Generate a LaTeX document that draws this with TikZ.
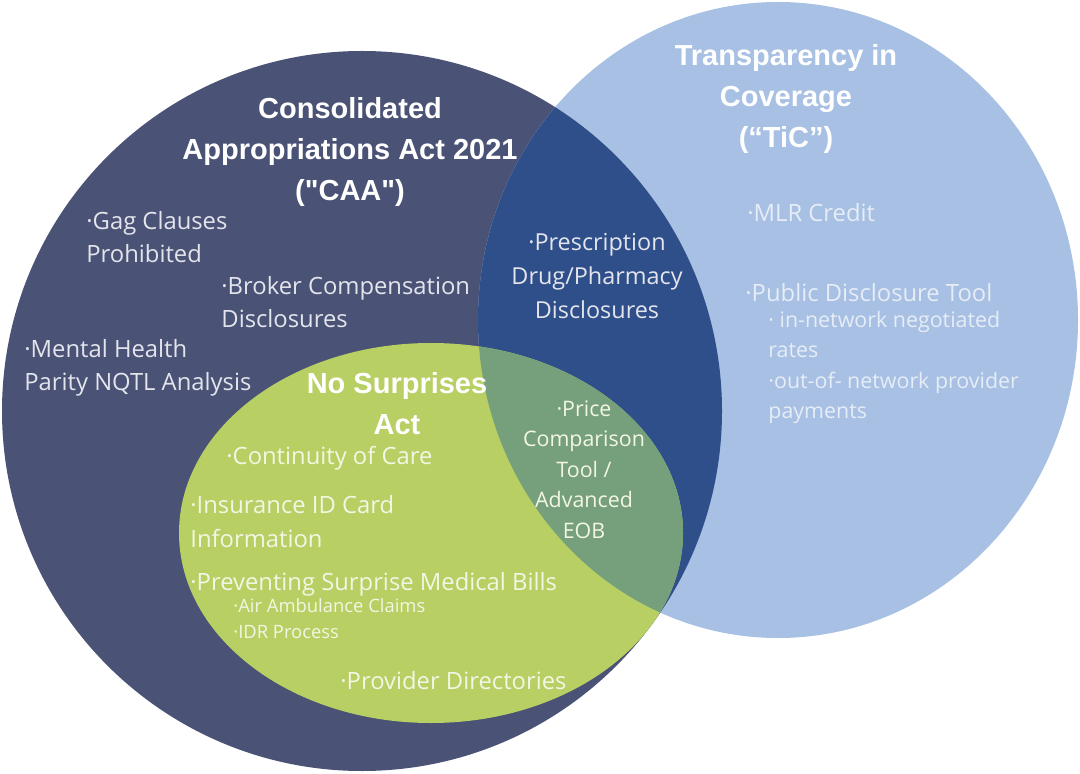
\documentclass[tikz,border=0pt]{standalone}
\usepackage{fontspec}
\setmainfont{Open Sans}
\newfontfamily\headfont{Liberation Sans}
\definecolor{caablue}{HTML}{4A5276}
\definecolor{ticblue}{HTML}{A7C0E3}
\definecolor{bothblue}{HTML}{2F4F8A}
\definecolor{nsagreen}{HTML}{B8CF63}
\definecolor{nsateal}{HTML}{76A07B}
\definecolor{caatext}{HTML}{E4E5EC}
\definecolor{tictext}{HTML}{E6EDF7}
\definecolor{nsatext}{HTML}{F3F6E4}
\tikzset{
  heading/.style={font=\headfont\bfseries\fontsize{14.5}{20.5}\selectfont, text=white, align=center, anchor=base, inner sep=0pt},
  item/.style={font=\fontsize{11.9}{16.75}\selectfont, align=left, anchor=base west, inner sep=0pt},
  subitem/.style={item, font=\fontsize{10.7}{15.25}\selectfont},
  tinyitem/.style={item, font=\fontsize{9.2}{13}\selectfont},
}
\def\caacircle{(362,411) circle [radius=360]}
\def\ticcircle{(778,320) ellipse [x radius=300, y radius=318]}
\def\nsacircle{(431,533) ellipse [x radius=252, y radius=190]}
\begin{document}
\begin{tikzpicture}[x=0.5pt, y=-0.5pt]
\useasboundingbox[fill=white] (0,0) rectangle (1080,774);
% the three circles
\fill[caablue] \caacircle;
\fill[ticblue] \ticcircle;
\begin{scope}
\clip \caacircle;
\fill[bothblue] \ticcircle;
\end{scope}
\fill[nsagreen] \nsacircle;
\begin{scope}
\clip \ticcircle;
\fill[nsateal] \nsacircle;
\end{scope}
% headings (anchored at the last line)
\node[heading] (caa) at (350,201) {Consolidated\\Appropriations Act 2021\\("CAA")};
\node[heading] (tic) at (786,148) {Transparency in\\Coverage\\(“TiC”)};
\node[heading] (nsa) at (397,435) {No Surprises\\Act};
% CAA only
\node[item, text=caatext] (gag) at (86,263) {·Gag Clauses\\Prohibited};
\node[item, text=caatext] (broker) at (221,328) {·Broker Compensation\\Disclosures};
\node[item, text=caatext] (mental) at (24,391) {·Mental Health\\Parity NQTL Analysis};
% CAA and TiC
\node[item, font=\fontsize{11.7}{17}\selectfont, align=center, anchor=base, text=caatext] (drug) at (597,319) {·Prescription\\Drug/Pharmacy\\Disclosures};
% TiC only
\node[item, text=tictext] (mlr) at (747,222) {·MLR Credit};
\node[item, text=tictext] (tool) at (745,302) {·Public Disclosure Tool};
\node[subitem, text=tictext] (rates) at (768,419) {· in-network negotiated\\rates\\·out-of- network provider\\payments};
% No Surprises Act
\node[item, text=nsatext] (care) at (226,465) {·Continuity of Care};
\node[item, text=nsatext] (card) at (190,547) {·Insurance ID Card\\Information};
\node[item, text=nsatext] (bills) at (190,590) {·Preventing Surprise Medical Bills};
\node[tinyitem, text=nsatext] (air) at (233,638) {·Air Ambulance Claims\\·IDR Process};
\node[item, text=nsatext] (dir) at (340,689) {·Provider Directories};
% all three
\node[subitem, align=center, anchor=base, text=nsatext] (price) at (584,538) {·Price\\Comparison\\Tool /\\Advanced\\EOB};
\end{tikzpicture}
\end{document}
